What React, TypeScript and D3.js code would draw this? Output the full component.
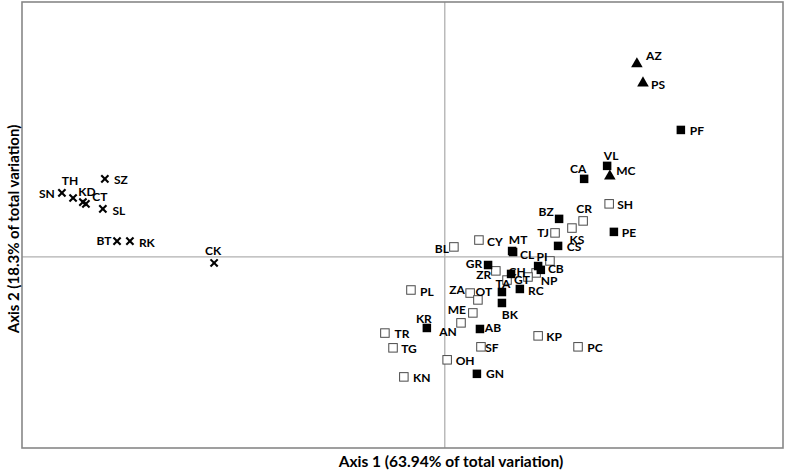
import React from 'react';
import * as d3 from 'd3';

// Ordination scores (axis 1, axis 2)
const crossPoints = [
  { id: 'SN', x: -1.132, y: 0.251 },
  { id: 'TH', x: -1.099, y: 0.231 },
  { id: 'KD', x: -1.07, y: 0.215 },
  { id: 'CT', x: -1.061, y: 0.208 },
  { id: 'SZ', x: -1.005, y: 0.306 },
  { id: 'SL', x: -1.011, y: 0.188 },
  { id: 'BT', x: -0.969, y: 0.062 },
  { id: 'RK', x: -0.931, y: 0.062 },
  { id: 'CK', x: -0.682, y: -0.024 },
];

const trianglePoints = [
  { id: 'AZ', x: 0.568, y: 0.757 },
  { id: 'PS', x: 0.586, y: 0.682 },
  { id: 'MC', x: 0.488, y: 0.317 },
];

const filledPoints = [
  { id: 'PF', x: 0.698, y: 0.498 },
  { id: 'VL', x: 0.48, y: 0.357 },
  { id: 'CA', x: 0.412, y: 0.306 },
  { id: 'BZ', x: 0.338, y: 0.149 },
  { id: 'PE', x: 0.5, y: 0.098 },
  { id: 'CS', x: 0.335, y: 0.043 },
  { id: 'MT', x: 0.199, y: 0.023 },
  { id: 'CL', x: 0.202, y: 0.019 },
  { id: 'GR', x: 0.128, y: -0.032 },
  { id: '', x: 0.276, y: -0.036 },
  { id: 'CB', x: 0.284, y: -0.051 },
  { id: 'CH', x: 0.196, y: -0.067 },
  { id: 'RC', x: 0.222, y: -0.126 },
  { id: 'TA', x: 0.169, y: -0.138 },
  { id: 'BK', x: 0.169, y: -0.181 },
  { id: 'AB', x: 0.104, y: -0.283 },
  { id: 'KR', x: -0.053, y: -0.279 },
  { id: 'GN', x: 0.095, y: -0.459 },
];

const openPoints = [
  { id: 'BL', x: 0.027, y: 0.039 },
  { id: 'CY', x: 0.101, y: 0.066 },
  { id: 'TJ', x: 0.326, y: 0.094 },
  { id: 'KS', x: 0.376, y: 0.113 },
  { id: 'CR', x: 0.409, y: 0.141 },
  { id: 'SH', x: 0.486, y: 0.208 },
  { id: 'PI', x: 0.311, y: -0.016 },
  { id: 'NP', x: 0.27, y: -0.063 },
  { id: 'GT', x: 0.246, y: -0.079 },
  { id: '', x: 0.184, y: -0.091 },
  { id: 'ZR', x: 0.151, y: -0.055 },
  { id: 'ZA', x: 0.075, y: -0.142 },
  { id: 'OT', x: 0.098, y: -0.169 },
  { id: 'ME', x: 0.083, y: -0.22 },
  { id: 'AN', x: 0.048, y: -0.259 },
  { id: 'SF', x: 0.107, y: -0.353 },
  { id: 'OH', x: 0.007, y: -0.404 },
  { id: 'KP', x: 0.276, y: -0.31 },
  { id: 'PC', x: 0.394, y: -0.353 },
  { id: 'PL', x: -0.1, y: -0.13 },
  { id: 'TR', x: -0.177, y: -0.299 },
  { id: 'TG', x: -0.153, y: -0.357 },
  { id: 'KN', x: -0.121, y: -0.471 },
];

// where each label sits relative to its marker (px)
const labelOffset: Record<string, [number, number]> = {
  SN: [-15, 1], TH: [-3, -17], KD: [4, -11], CT: [14, -7], SZ: [16, 1], SL: [16, 2],
  BT: [-13, -1], RK: [17, 1], CK: [-1, -12],
  AZ: [17, -8], PS: [15, 1], MC: [16, -6],
  PF: [16, 1], VL: [4, -10], CA: [-6, -10], BZ: [-13, -7], PE: [15, 1], CS: [16, 1],
  MT: [6, -11], CL: [14, 2], GR: [-14, -2], CB: [15, -1], CH: [6, -2], RC: [16, 2],
  TA: [1, -9], BK: [8, 12], AB: [13, -1], KR: [-3, -9], GN: [18, 0],
  BL: [-12, 2], CY: [16, 1], TJ: [-12, 0], KS: [5, 11], CR: [1, -12], SH: [16, 1],
  PI: [-8, -4], NP: [13, 8], GT: [-6, 3], ZR: [-12, 4], ZA: [-13, -4], OT: [6, -8],
  ME: [-16, -3], AN: [-13, 9], SF: [11, 1], OH: [18, 1], KP: [16, 1], PC: [17, 1],
  PL: [16, 2], TR: [17, 0], TG: [16, 1], KN: [18, 1],
};

const xLabel = 'Axis 1 (63.94% of total variation)';
const yLabel = 'Axis 2 (18.3% of total variation)';

const W = 788;
const H = 471;
const plot = { left: 22, right: 783, top: 2, bottom: 448 };
const FONT = 'Lato, "Open Sans", sans-serif';

export default function App() {
  const x = d3.scaleLinear().domain([-1.25, 1.0]).range([plot.left, plot.right]);
  const y = d3.scaleLinear().domain([-0.75, 1.0]).range([plot.bottom, plot.top]);
  const tri = d3.symbol().type(d3.symbolTriangle).size(58)();

  const all = [...crossPoints, ...trianglePoints, ...filledPoints, ...openPoints];
  const sq = 8.5;

  return (
    <svg width={W} height={H} style={{ position: 'absolute', left: 0, top: 0, background: '#fff' }}>
      <rect x={0} y={0} width={W} height={H} fill="#fff" />
      {/* zero lines */}
      <line x1={x(0)} x2={x(0)} y1={plot.top} y2={plot.bottom} stroke="#b0b0b0" strokeWidth={1.3} />
      <line x1={plot.left} x2={plot.right} y1={y(0)} y2={y(0)} stroke="#b0b0b0" strokeWidth={1.3} />
      <rect
        x={plot.left}
        y={plot.top}
        width={plot.right - plot.left}
        height={plot.bottom - plot.top}
        fill="none"
        stroke="#878787"
        strokeWidth={1.6}
      />

      {openPoints.map((d, i) => (
        <rect key={'o' + i} x={x(d.x) - sq / 2} y={y(d.y) - sq / 2} width={sq} height={sq}
          fill="#fff" stroke="#4a4a4a" strokeWidth={1} />
      ))}
      {filledPoints.map((d, i) => (
        <rect key={'f' + i} x={x(d.x) - sq / 2} y={y(d.y) - sq / 2} width={sq} height={sq} fill="#000" />
      ))}
      {trianglePoints.map((d, i) => (
        <path key={'t' + i} d={tri || ''} transform={`translate(${x(d.x)},${y(d.y)})`} fill="#000" />
      ))}
      {crossPoints.map((d, i) => {
        const cx = x(d.x);
        const cy = y(d.y);
        const r = 3.6;
        return (
          <g key={'c' + i} stroke="#000" strokeWidth={2.1}>
            <line x1={cx - r} y1={cy - r} x2={cx + r} y2={cy + r} />
            <line x1={cx - r} y1={cy + r} x2={cx + r} y2={cy - r} />
          </g>
        );
      })}

      {all.filter(d => d.id).map((d, i) => {
        const off = labelOffset[d.id] || [14, 0];
        return (
          <text key={'l' + i} x={x(d.x) + off[0]} y={y(d.y) + off[1]} textAnchor="middle"
            dominantBaseline="central" fontFamily={FONT} fontWeight={700} fontSize={12} fill="#000">
            {d.id}
          </text>
        );
      })}

      <text x={451} y={461} textAnchor="middle" dominantBaseline="central"
        fontFamily={FONT} fontWeight={700} fontSize={15.5} fill="#000">
        {xLabel}
      </text>
      <text transform={`translate(13,${229}) rotate(-90)`} textAnchor="middle" dominantBaseline="central"
        fontFamily={FONT} fontWeight={700} fontSize={15} fill="#000">
        {yLabel}
      </text>
    </svg>
  );
}
